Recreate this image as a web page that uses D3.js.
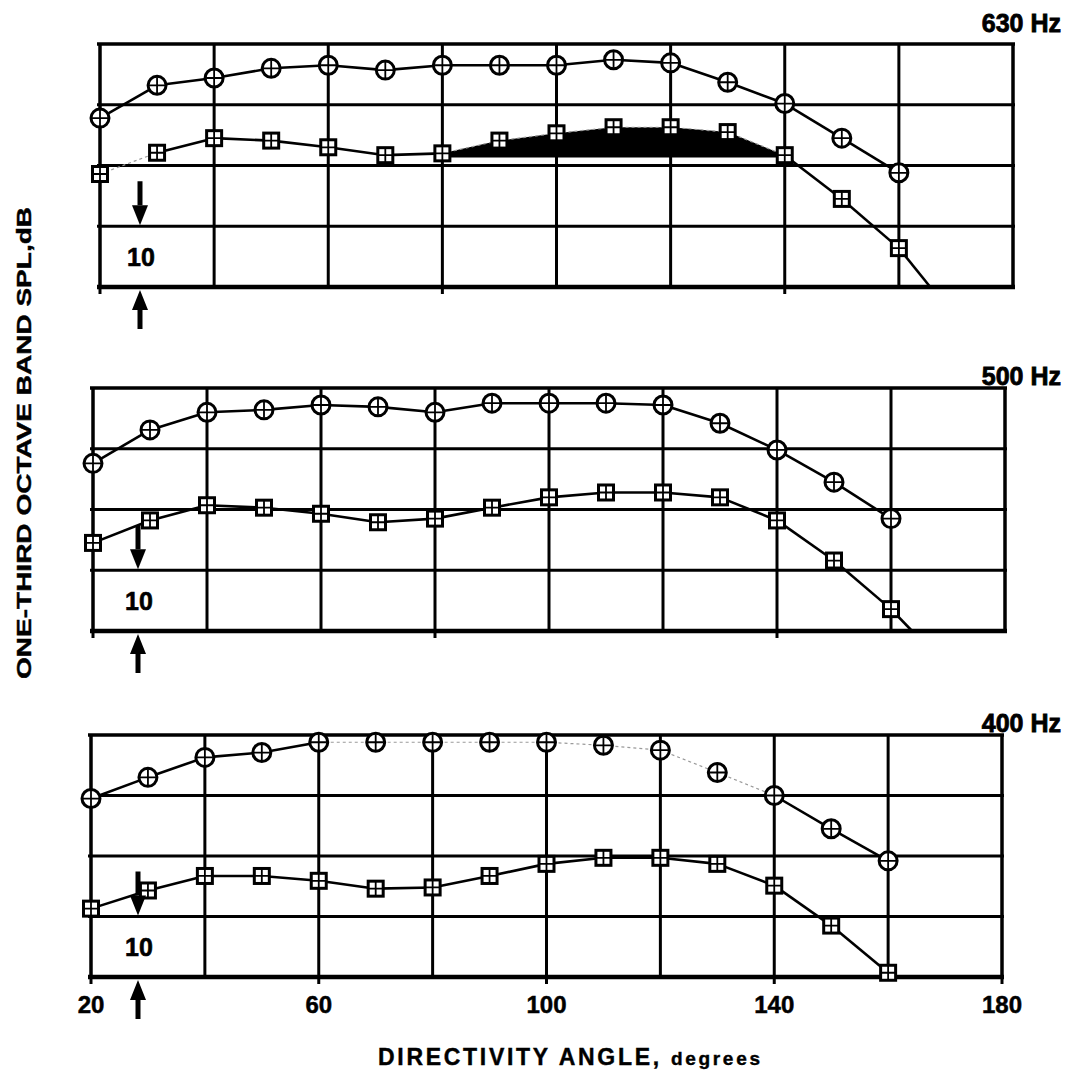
<!DOCTYPE html>
<html><head><meta charset="utf-8">
<script src="https://cdn.jsdelivr.net/npm/d3@7"></script>
<style>
html,body{margin:0;padding:0;background:#fff;}
svg{display:block;}
text{font-family:"Liberation Sans",Arial,Helvetica,sans-serif;font-weight:bold;fill:#000;}
</style></head>
<body>
<svg id="chart" width="1066" height="1080"></svg>
<script>
// ---------- DATA ----------
const angles = [20,30,40,50,60,70,80,90,100,110,120,130,140,150,160];
const panelNames = ["630 Hz","500 Hz","400 Hz"];
const xTicks = [20,60,100,140,180];
const yGrid = [0,10,20,30,40];
const scaleLabel = "10";
// relative SPL, dB above panel floor
const circles630 = [27.8,33.2,34.4,36.0,36.5,35.7,36.5,36.5,36.5,37.4,36.9,33.7,30.2,24.5,18.8];
const squares630 = [18.6,22.1,24.5,24.1,23.0,21.7,22.0,24.1,25.3,26.3,26.3,25.5,21.7,14.5,6.4];
const circles500 = [27.6,33.1,36.0,36.4,37.2,36.9,36.0,37.5,37.5,37.5,37.2,34.2,29.8,24.5,18.5];
const squares500 = [14.5,18.2,20.7,20.3,19.3,17.9,18.5,20.3,22.0,22.8,22.8,22.0,18.2,11.6,3.6];
const circles400 = [29.5,33.0,36.3,37.1,38.8,38.8,38.8,38.8,38.8,38.3,37.5,33.8,30.0,24.5,19.2];
const squares400 = [11.3,14.3,16.7,16.7,15.9,14.6,14.8,16.7,18.7,19.7,19.7,18.7,15.1,8.5,0.7];
// where the lower curve runs out through the panel floor: [angle, dB]
const squareTails = [[165.5,0],[163.7,0],[161,0]];
// shaded region in 630 Hz panel
const shadeFrom = 80, shadeTo = 140, shadeBase = 21.3;
// faint (poorly printed) segments: [panel, series, fromAngle, toAngle]
const faintSegments = [[0,"sq",20,30],[0,"sq",80,140],[2,"ci",60,140]];

const circleSeries = [circles630,circles500,circles400];
const squareSeries = [squares630,squares500,squares400];

// ---------- LAYOUT ----------
const layout = [
  {x0:100,x1:1013,top:44,bottom:287,titleY:32, arrowX:140},
  {x0:93, x1:1005,top:388,bottom:631,titleY:385,arrowX:138},
  {x0:91, x1:1002,top:735,bottom:977,titleY:732,arrowX:138}
];

const svg = d3.select("#chart");

function arrow(g, x, yTail, yTip){
  const dir = yTip > yTail ? 1 : -1;
  const headLen = 20, headW = 8;
  g.append("line").attr("x1",x).attr("x2",x).attr("y1",yTail).attr("y2",yTip - dir*headLen)
    .attr("stroke","#000").attr("stroke-width",5);
  g.append("path").attr("d",`M${x-headW},${yTip-dir*headLen} L${x+headW},${yTip-dir*headLen} L${x},${yTip} Z`)
    .attr("fill","#000");
}

layout.forEach((L,i)=>{
  const x = d3.scaleLinear().domain([20,180]).range([L.x0,L.x1]);
  const y = d3.scaleLinear().domain([0,40]).range([L.bottom,L.top]);
  const g = svg.append("g");

  // grid
  g.selectAll(".vg").data(d3.range(20,181,20)).join("line")
    .attr("x1",d=>x(d)).attr("x2",d=>x(d)).attr("y1",y(40)).attr("y2",y(0))
    .attr("stroke","#000").attr("stroke-width",d=>(d===20||d===180)?3.5:3);
  g.selectAll(".hg").data(yGrid).join("line")
    .attr("x1",x(20)-3).attr("x2",x(180)+2).attr("y1",d=>y(d)).attr("y2",d=>y(d))
    .attr("stroke","#000").attr("stroke-width",d=>d===0?4.5:(d===40?3.5:3));

  // small ticks below vertical lines
  g.selectAll(".tk").data(i===2?xTicks:[20,80,140]).join("line")
    .attr("x1",d=>x(d)).attr("x2",d=>x(d)).attr("y1",y(0)).attr("y2",y(0)+7)
    .attr("stroke","#000").attr("stroke-width",3);

  // shaded region (630 Hz)
  if(i===0){
    const sd = angles.map((a,k)=>[a,squareSeries[i][k]]).filter(d=>d[0]>=shadeFrom&&d[0]<=shadeTo);
    g.append("path").datum(sd)
      .attr("d",d3.area().x(d=>x(d[0])).y0(y(shadeBase)).y1(d=>y(d[1])))
      .attr("fill","#000");
  }

  const line = d3.line().x(d=>x(d[0])).y(d=>y(d[1]));
  const drawSeries = (vals, key, tail)=>{
    const pts = angles.map((a,k)=>[a,vals[k]]);
    if(tail) pts.push(tail);
    for(let k=0;k<pts.length-1;k++){
      const a0 = pts[k][0], a1 = pts[k+1][0];
      const faint = faintSegments.some(f=>f[0]===i&&f[1]===key&&a0>=f[2]&&a1<=f[3]);
      g.append("path").datum([pts[k],pts[k+1]]).attr("d",line)
        .attr("fill","none")
        .attr("stroke",faint?"#9a9a9a":"#000")
        .attr("stroke-width",faint?1.2:2.6)
        .attr("stroke-dasharray",faint?"3,3":null);
    }
  };
  drawSeries(circleSeries[i],"ci",null);
  drawSeries(squareSeries[i],"sq",squareTails[i]);

  // circle markers
  const cm = g.selectAll(".cm").data(angles.map((a,k)=>[a,circleSeries[i][k]])).join("g")
    .attr("transform",d=>`translate(${x(d[0])},${y(d[1])})`);
  cm.append("circle").attr("r",9).attr("fill","#fff").attr("stroke","#000").attr("stroke-width",3);
  cm.append("path").attr("d","M-8,0H8M0,-8V8").attr("stroke","#000").attr("stroke-width",1.8);

  // square markers
  const sm = g.selectAll(".sm").data(angles.map((a,k)=>[a,squareSeries[i][k]])).join("g")
    .attr("transform",d=>`translate(${x(d[0])},${y(d[1])})`);
  sm.append("rect").attr("x",-7.5).attr("y",-7.5).attr("width",15).attr("height",15)
    .attr("fill","#fff").attr("stroke","#000").attr("stroke-width",3);
  sm.append("path").attr("d","M-7.5,0H7.5M0,-7.5V7.5").attr("stroke","#000").attr("stroke-width",1.8);

  // panel title
  g.append("text").attr("x",1061).attr("y",L.titleY).attr("text-anchor","end")
    .attr("font-size",25).attr("stroke","#000").attr("stroke-width",0.8)
    .text(panelNames[i]);

  // 10 dB scale indicator
  g.append("text").attr("x",L.arrowX+1).attr("y",(y(10)+y(0))/2+9).attr("text-anchor","middle")
    .attr("font-size",25).attr("stroke","#000").attr("stroke-width",0.6).text(scaleLabel);
  arrow(g, L.arrowX, y(10)-45, y(10)-1);
  arrow(g, L.arrowX, y(0)+42, y(0)+3);

  // x tick labels (bottom panel only)
  if(i===2){
    g.selectAll(".xl").data(xTicks).join("text")
      .attr("x",d=>x(d)).attr("y",1013).attr("text-anchor","middle")
      .attr("font-size",24).attr("stroke","#000").attr("stroke-width",0.5).text(d=>d);
  }
});

// axis titles
const xt = svg.append("text").attr("x",569).attr("y",1065).attr("text-anchor","middle")
  .attr("textLength",382).attr("lengthAdjust","spacing")
  .attr("stroke","#000").attr("stroke-width",0.4);
xt.append("tspan").attr("font-size",23).text("DIRECTIVITY ANGLE, ");
xt.append("tspan").attr("font-size",19).text("degrees");

svg.append("text").attr("transform","translate(31,443) rotate(-90)")
  .attr("text-anchor","middle").attr("font-size",20)
  .attr("stroke","#000").attr("stroke-width",0.4)
  .attr("textLength",472).attr("lengthAdjust","spacingAndGlyphs")
  .text("ONE-THIRD OCTAVE BAND SPL,dB");
</script>
</body></html>
